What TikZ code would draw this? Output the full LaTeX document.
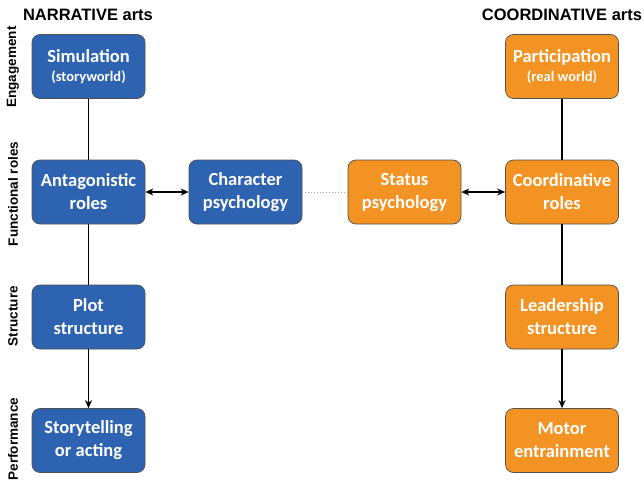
\documentclass[tikz,border=0pt]{standalone}
\usepackage{fontspec}
\setmainfont{Carlito}
\newfontfamily\headfont{Liberation Sans}
\usetikzlibrary{arrows.meta}
\definecolor{nblue}{RGB}{46,99,178}
\definecolor{corange}{RGB}{243,147,35}
\definecolor{bordergray}{RGB}{80,80,80}
\tikzset{
  box/.style={draw=bordergray, line width=0.7pt, rounded corners=8pt, minimum width=113pt, minimum height=64pt, inner sep=0pt, align=center, text=white, font=\bfseries\fontsize{18.5}{23}\selectfont},
  bluebox/.style={box, fill=nblue},
  orangebox/.style={box, fill=corange},
  conn/.style={line width=1.8pt, black},
  arr/.style={conn, -{Stealth[length=8pt,width=7pt]}},
  darr/.style={conn, {Stealth[length=8pt,width=7pt]}-{Stealth[length=8pt,width=7pt]}},
  head/.style={font=\headfont\bfseries\fontsize{16.5}{20}\selectfont, text=black},
  side/.style={font=\headfont\bfseries\fontsize{13.5}{16}\selectfont, rotate=90, text=black},
  small/.style={font=\bfseries\fontsize{14.5}{17}\selectfont}
}
\begin{document}
\begin{tikzpicture}[x=1pt,y=-1pt]
\useasboundingbox (0,0) rectangle (644,485);
\fill[white] (0,0) rectangle (644,485);
% titles
\node[head] (tn) at (88,15) {NARRATIVE arts};
\node[head] (tc) at (562,15) {COORDINATIVE arts};
% side labels
\node[side] (s1) at (13,67) {Engagement};
\node[side] (s2) at (13,194) {Functional roles};
\node[side] (s3) at (13,316) {Structure};
\node[side] (s4) at (13,439) {Performance};
% boxes
\node[bluebox] (sim) at (88.5,66.5) {Simulation\\[-4pt]{\fontsize{14.5}{17}\selectfont(storyworld)}};
\node[bluebox] (ant) at (88.5,192) {Antagonistic\\roles};
\node[bluebox] (chr) at (245.5,192) {Character\\psychology};
\node[orangebox] (sta) at (404.5,192) {Status\\psychology};
\node[orangebox] (coo) at (562,192) {Coordinative\\roles};
\node[orangebox] (par) at (562,66.5) {Participation\\[-4pt]{\fontsize{14.5}{17}\selectfont(real world)}};
\node[bluebox] (plo) at (88.5,317) {Plot\\structure};
\node[bluebox] (sto) at (88.5,440.5) {Storytelling\\or acting};
\node[orangebox] (lea) at (562,317) {Leadership\\structure};
\node[orangebox] (mot) at (562,440.5) {Motor\\entrainment};
% connectors
\draw[conn] (sim) -- (ant);
\draw[conn] (ant) -- (plo);
\draw[arr] (plo) -- (sto);
\draw[conn] (par) -- (coo);
\draw[conn] (coo) -- (lea);
\draw[arr] (lea) -- (mot);
\draw[darr] (ant) -- (chr);
\draw[darr] (sta) -- (coo);
\draw[gray!70, line width=1pt, dotted] (chr) -- (sta);
\end{tikzpicture}
\end{document}
